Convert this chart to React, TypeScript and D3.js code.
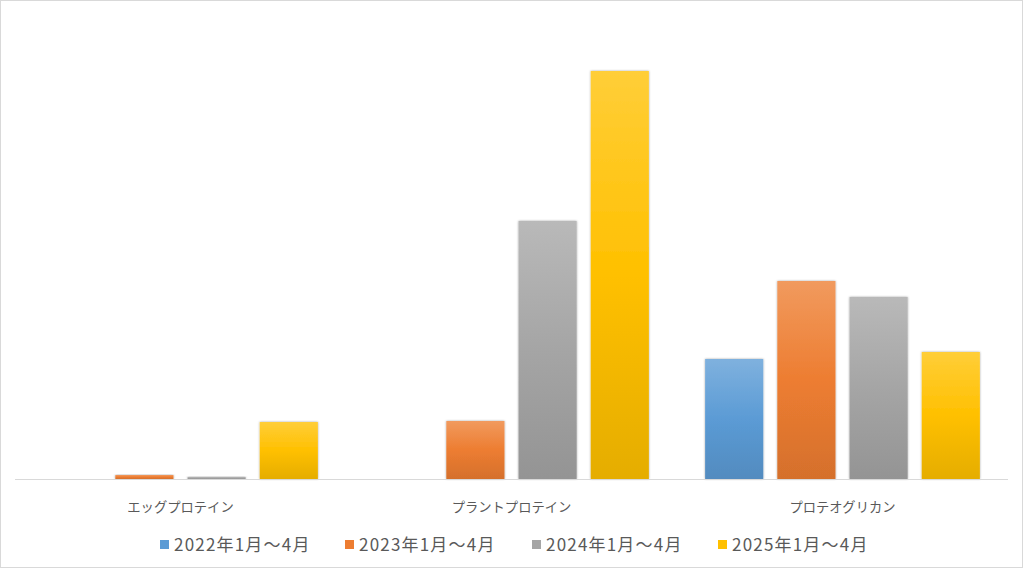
import React from "react";
import * as d3 from "d3";

const categories = ["エッグプロテイン", "プラントプロテイン", "プロテオグリカン"];
const seriesNames = ["2022年1月～4月", "2023年1月～4月", "2024年1月～4月", "2025年1月～4月"];
const s2022 = [0, 0, 120];
const s2023 = [4, 58, 198];
const s2024 = [2, 258, 182];
const s2025 = [57, 408, 127];
const seriesValues = [s2022, s2023, s2024, s2025];
const baseColors = ["#5b9bd5", "#ed7d31", "#a5a5a5", "#ffc000"];

const W = 1024;
const H = 569;

export default function App() {
  const plotLeft = 15;
  const plotRight = 1008;
  const baseY = 479;
  const x0 = d3.scaleBand<string>().domain(categories).range([plotLeft, plotRight]).paddingInner(0.17).paddingOuter(0.085);
  const x1 = d3.scaleBand<number>().domain([0, 1, 2, 3]).range([0, x0.bandwidth()]).paddingInner(0.195);
  const y = d3.scaleLinear().domain([0, 450]).range([baseY, baseY - 450]);
  const font = "'Noto Sans CJK JP', 'Noto Sans', sans-serif";

  const legendX = [160, 345, 532, 718];

  return (
    <svg width={W} height={H} style={{ position: "absolute", left: 0, top: 0, background: "#fff" }} fontFamily={font}>
      <defs>
        {baseColors.map((c, i) => {
          const col = d3.color(c)!;
          return (
            <linearGradient key={i} id={`g${i}`} x1="0" y1="0" x2="0" y2="1">
              <stop offset="0%" stopColor={d3.interpolateRgb(c, "#fff")(0.22)} />
              <stop offset="50%" stopColor={c} />
              <stop offset="100%" stopColor={col.darker(0.3).toString()} />
            </linearGradient>
          );
        })}
        <filter id="sh" x="-10%" y="-10%" width="120%" height="120%">
          <feDropShadow dx="0" dy="0" stdDeviation="1" floodColor="#000" floodOpacity="0.35" />
        </filter>
      </defs>
      <rect x={0.5} y={0.5} width={W - 2} height={H - 2} fill="#fff" stroke="#d9d9d9" strokeWidth={1} />
      {categories.map((cat, ci) =>
        seriesValues.map((vals, si) => {
          const v = vals[ci];
          const bx = (x0(cat) ?? 0) + (x1(si) ?? 0);
          const by = y(v);
          const h = baseY - by;
          if (h <= 0) return null;
          return (
            <rect key={`${ci}-${si}`} x={bx} y={by} width={x1.bandwidth()} height={h} fill={`url(#g${si})`} filter="url(#sh)" />
          );
        })
      )}
      <line x1={plotLeft} x2={plotRight} y1={baseY + 0.5} y2={baseY + 0.5} stroke="#d9d9d9" strokeWidth={1} />
      {categories.map((cat) => (
        <text key={cat} x={(x0(cat) ?? 0) + x0.bandwidth() / 2} y={512} textAnchor="middle" fontSize={13.3} fill="#595959">
          {cat}
        </text>
      ))}
      {seriesNames.map((name, i) => (
        <g key={name}>
          <rect x={legendX[i]} y={540} width={9} height={9} fill={baseColors[i]} />
          <text x={legendX[i] + 14} y={551} fontSize={17} letterSpacing={1.2} fill="#595959">
            {name}
          </text>
        </g>
      ))}
    </svg>
  );
}
